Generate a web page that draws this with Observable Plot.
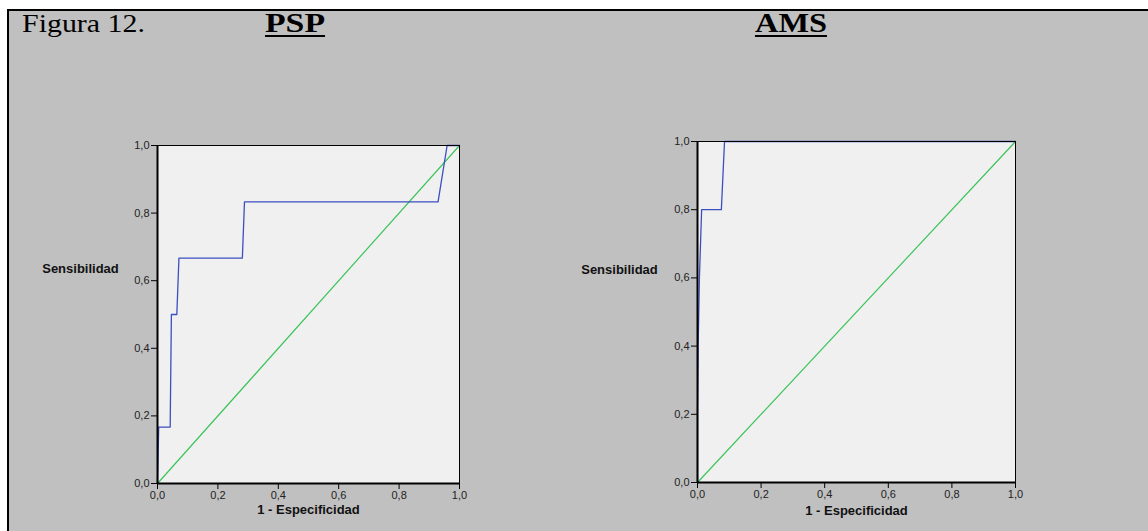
<!DOCTYPE html>
<html>
<head>
<meta charset="utf-8">
<script src="https://cdn.jsdelivr.net/npm/d3@7"></script>
<script src="https://cdn.jsdelivr.net/npm/@observablehq/plot@0.6"></script>
<style>
  html, body { margin: 0; padding: 0; background: #ffffff; }
  #page { position: relative; width: 1148px; height: 531px; overflow: hidden; }
  #panel { position: absolute; left: 7px; top: 9px; width: 1141px; height: 522px;
           background: #c0c0c0; border-left: 2px solid #000; border-top: 2px solid #000; box-sizing: border-box; }
  .ttl { position: absolute; font-family: "Liberation Serif", "Times New Roman", serif; font-size: 26px; color: #000; line-height: 1;
         transform-origin: 0 0; white-space: nowrap; }
  .ttl.b { font-weight: bold; font-size: 27px; text-decoration: underline; text-decoration-thickness: 2px; text-underline-offset: 3px; }
  .chart { position: absolute; top: 0; }
</style>
</head>
<body>
<div id="page">
  <div id="panel"></div>
  <div class="ttl" style="left:22px; top:11px; transform: scaleX(1.15);">Figura 12.</div>
  <div class="ttl b" style="left:265px; top:10px; transform: scaleX(1.25);">PSP</div>
  <div class="ttl b" style="left:755px; top:10px; transform: scaleX(1.2);">AMS</div>
  <div id="c1" class="chart" style="left:0px;"></div>
  <div id="c2" class="chart" style="left:574px;"></div>
</div>
<script>
// ---- data ----
const tickValues = [0, 0.2, 0.4, 0.6, 0.8, 1.0];
const refX = [0, 1];
const refY = [0, 1];
const pspFpr = [0, 0.004, 0.042, 0.046, 0.064, 0.071, 0.281, 0.288, 0.929, 0.959, 1];
const pspTpr = [0, 0.167, 0.167, 0.5, 0.5, 0.667, 0.667, 0.833, 0.833, 1, 1];
const amsFpr = [0, 0, 0.002, 0.006, 0.013, 0.075, 0.085, 1];
const amsTpr = [0, 0.2, 0.4, 0.6, 0.8, 0.8, 1, 1];
const xLabel = "1 - Especificidad";
const yLabel = "Sensibilidad";

const fmt = d => d.toFixed(1).replace(".", ",");

function roc(fpr, tpr, m, yLab) {
  const curve = fpr.map((x, i) => ({x, y: tpr[i]}));
  const diag = refX.map((x, i) => ({x, y: refY[i]}));
  return Plot.plot({
    width: 574, height: 531,
    marginLeft: m.l, marginRight: m.r, marginTop: m.t, marginBottom: m.b,
    x: {domain: [0, 1]},
    y: {domain: [0, 1]},
    style: {background: "transparent", fontFamily: "Arial, 'Liberation Sans', sans-serif", fontSize: "11px", color: "#000", overflow: "visible"},
    marks: [
      Plot.frame({fill: "#f0f0f0", stroke: null}),
      Plot.line(diag, {x: "x", y: "y", stroke: "#3cc45a", strokeWidth: 1.2}),
      Plot.line(curve, {x: "x", y: "y", stroke: "#3b4fbf", strokeWidth: 1.3}),
      Plot.frame({stroke: "#000", strokeWidth: 1}),
      Plot.ruleX([0], {stroke: "#000", strokeWidth: 2}),
      Plot.ruleY([0], {stroke: "#000", strokeWidth: 2}),
      Plot.axisX({ticks: tickValues, tickSize: 6, tickPadding: 2, tickFormat: fmt, label: null, stroke: "#000", fill: "#222"}),
      Plot.axisY({ticks: tickValues, tickSize: 6, tickPadding: 2, tickFormat: fmt, label: null, stroke: "#000", fill: "#222"}),
      Plot.text([xLabel], {text: d => d, frameAnchor: "bottom", dy: m.xdy, fontWeight: "bold", fontSize: 13, fill: "#111"}),
      Plot.text([yLabel], {text: d => d, frameAnchor: "left", textAnchor: "middle", dx: yLab.dx, dy: yLab.dy, fontWeight: "bold", fontSize: 13, fill: "#111"})
    ]
  });
}

document.getElementById("c1").append(
  roc(pspFpr, pspTpr, {l: 157, r: 115, t: 145, b: 48, xdy: 30}, {dx: -77, dy: -46})
);
document.getElementById("c2").append(
  roc(amsFpr, amsTpr, {l: 123, r: 133, t: 141, b: 49, xdy: 32}, {dx: -78, dy: -42})
);
</script>
</body>
</html>
